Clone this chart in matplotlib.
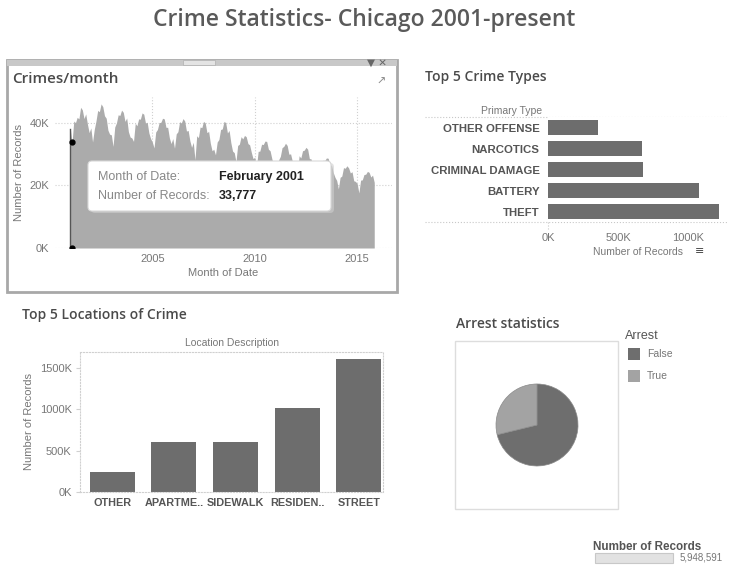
import matplotlib.pyplot as plt
import matplotlib.patches as mpatches
import numpy as np

W, H = 733, 576

# ---- data ----
years = list(range(2001, 2016))
monthly_k = [
    [38.1, 33.8, 40.6, 40.1, 41.8, 41.3, 45.0, 44.2, 41.4, 42.9, 39.6, 36.9],
    [38.4, 33.9, 37.9, 40.6, 44.0, 43.6, 46.1, 45.2, 42.3, 41.5, 37.7, 36.4],
    [36.2, 32.5, 38.7, 40.0, 42.6, 42.4, 44.1, 43.4, 40.5, 41.6, 37.2, 35.5],
    [35.2, 34.1, 39.9, 39.1, 41.3, 41.2, 43.2, 42.8, 40.0, 40.2, 36.8, 35.0],
    [33.9, 32.0, 37.1, 37.9, 40.1, 40.2, 41.5, 41.3, 38.6, 38.6, 35.2, 33.4],
    [35.0, 31.9, 36.5, 37.2, 40.4, 40.0, 41.4, 40.6, 37.4, 37.6, 34.3, 32.2],
    [33.8, 28.2, 35.9, 35.3, 38.7, 38.5, 40.5, 40.0, 36.9, 37.3, 33.5, 31.1],
    [31.6, 29.8, 33.9, 34.7, 37.9, 38.1, 40.5, 40.1, 36.8, 37.6, 33.7, 31.0],
    [30.5, 27.6, 32.8, 33.2, 35.6, 34.9, 36.0, 35.6, 33.4, 33.0, 30.6, 28.6],
    [29.0, 25.9, 30.9, 31.0, 33.2, 33.1, 34.2, 34.1, 31.6, 31.1, 28.6, 26.6],
    [26.1, 22.8, 28.2, 29.3, 32.1, 32.5, 33.5, 32.8, 30.0, 30.1, 27.8, 26.5],
    [26.5, 24.6, 29.5, 28.8, 31.1, 31.3, 32.2, 31.6, 28.6, 28.5, 25.8, 25.1],
    [25.6, 21.8, 25.8, 25.9, 28.1, 28.0, 28.8, 28.7, 26.7, 26.4, 24.1, 22.6],
    [21.6, 18.9, 22.6, 23.0, 25.7, 25.5, 26.3, 25.6, 24.0, 24.4, 21.5, 21.3],
    [20.6, 17.6, 21.7, 21.8, 23.5, 23.6, 24.5, 24.2, 22.7, 23.3, 21.0],
]
hover_month = 'February 2001'
hover_value = 33777

crime_types = ['OTHER OFFENSE', 'NARCOTICS', 'CRIMINAL DAMAGE', 'BATTERY', 'THEFT']
crime_counts = [357000, 671000, 679000, 1079000, 1221000]

locations = ['OTHER', 'APARTME..', 'SIDEWALK', 'RESIDEN..', 'STREET']
location_counts = [241000, 602000, 598000, 1012000, 1602000]

arrest_labels = ['False', 'True']
arrest_counts = [4235000, 1713591]
total_records = 5948591

# ---- colours / fonts ----
GREY_TXT = '#777777'
DARK_TXT = '#555555'
BAR = '#6d6d6d'
AREA = '#ababab'
PIE_COLS = ['#6e6e6e', '#a3a3a3']
TFONT = 'Open Sans'
AFONT = 'Liberation Sans'


def rect(x0, y0, x1, y1):
    return [x0 / W, 1 - y1 / H, (x1 - x0) / W, (y1 - y0) / H]


fig = plt.figure(figsize=(W / 100, H / 100), dpi=100)
bg = fig.add_axes([0, 0, 1, 1])
bg.set_xlim(0, W)
bg.set_ylim(H, 0)
bg.axis('off')

bg.text(364, 20, 'Crime Statistics- Chicago 2001-present', ha='center', va='center',
        fontsize=16.5, fontweight='semibold', family=TFONT, color='#5a5a5a')

# panel frame for crimes/month
bg.add_patch(mpatches.Rectangle((7, 60), 390, 232, fill=False, ec='#a8a8a8', lw=2))
bg.add_patch(mpatches.Rectangle((7, 60), 390, 6, fc='#c8c8c8', ec='none'))
bg.add_patch(mpatches.Rectangle((183, 60), 32, 5, fc='#e4e4e4', ec='#b0b0b0', lw=0.5))
bg.text(387, 62.5, '\u25bc \u2715', ha='right', va='center', fontsize=7.5, color='#666666',
        family='DejaVu Sans')
bg.text(12, 79, 'Crimes/month', ha='left', va='center', fontsize=11, fontweight='semibold',
        family=TFONT, color='#4a4a4a')
bg.text(381, 82, '\u2197', ha='center', va='center', fontsize=8, color='#888888',
        family='DejaVu Sans')

# section titles
bg.text(425, 77, 'Top 5 Crime Types', ha='left', va='center', fontsize=10,
        fontweight='semibold', family=TFONT, color='#4a4a4a')
bg.text(22, 315, 'Top 5 Locations of Crime', ha='left', va='center', fontsize=10,
        fontweight='semibold', family=TFONT, color='#4a4a4a')
bg.text(456, 324, 'Arrest statistics', ha='left', va='center', fontsize=10,
        fontweight='semibold', family=TFONT, color='#4a4a4a')

# ---- crimes per month area ----
vals = np.concatenate([np.array(v) * 1000 for v in monthly_k])
months = np.concatenate([y + np.arange(len(v)) / 12 for y, v in zip(years, monthly_k)])
ax1 = fig.add_axes(rect(55, 97, 392, 248))
ax1.fill_between(months, vals, 0, color=AREA, lw=0)
ax1.plot([months[0], months[0]], [0, vals[0]], color='#555555', lw=1)
ax1.plot([months[1], months[1]], [0, hover_value], 'o', color='black', ms=3.5)
ax1.set_xlim(2000.25, 2016.7)
ax1.set_ylim(0, 48300)
ax1.set_yticks([0, 20000, 40000])
ax1.set_yticklabels(['0K', '20K', '40K'])
ax1.set_xticks([2005, 2010, 2015])
ax1.grid(True, ls=':', color='#d0d0d0', lw=0.8)
ax1.set_axisbelow(True)
for s in ax1.spines.values():
    s.set_visible(False)
ax1.tick_params(length=0, labelsize=8, colors=GREY_TXT, pad=4)
for t in ax1.get_xticklabels() + ax1.get_yticklabels():
    t.set_family(AFONT)
ax1.set_xlabel('Month of Date', fontsize=8, color=GREY_TXT, family=AFONT, labelpad=3)
ax1.set_ylabel('Number of Records', fontsize=8, color=GREY_TXT, family=AFONT, labelpad=4)

# ---- top 5 crime types ----
ax2 = fig.add_axes(rect(548, 117, 727, 222))
ypos = np.arange(len(crime_types))
ax2.barh(ypos, crime_counts, height=0.72, color=BAR)
ax2.set_ylim(len(crime_types) - 0.5, -0.5)
ax2.set_xlim(0, 1279000)
ax2.set_yticks(ypos)
ax2.set_yticklabels(crime_types)
ax2.set_xticks([0, 500000, 1000000])
ax2.set_xticklabels(['0K', '500K', '1000K'])
for s in ax2.spines.values():
    s.set_visible(False)
ax2.tick_params(axis='y', length=0, pad=6, labelsize=8.2, labelcolor=DARK_TXT)
ax2.tick_params(axis='x', length=0, pad=8, labelsize=8, labelcolor=GREY_TXT)
for t in ax2.get_yticklabels():
    t.set_family(AFONT)
    t.set_fontweight('bold')
for t in ax2.get_xticklabels():
    t.set_family(AFONT)
bg.plot([425, 727], [117, 117], ls=':', color='#c8c8c8', lw=0.8)
bg.plot([425, 727], [222, 222], ls=':', color='#c8c8c8', lw=0.8)
bg.plot([548, 548], [222, 229], ls=':', color='#c8c8c8', lw=0.8)
bg.text(542, 111, 'Primary Type', ha='right', va='center', fontsize=7.5, color=GREY_TXT,
        family=AFONT)
bg.text(638, 252, 'Number of Records', ha='center', va='center', fontsize=7.5,
        color=GREY_TXT, family=AFONT)
bg.text(700, 251, '\u2261', ha='center', va='center', fontsize=8, color='#444444',
        family='DejaVu Sans')

# ---- top 5 locations ----
ax3 = fig.add_axes(rect(80, 352, 383, 492))
xpos = np.arange(len(locations))
ax3.bar(xpos, location_counts, width=0.73, color=BAR)
ax3.set_xlim(-0.52, 4.39)
ax3.set_ylim(0, 1687000)
ax3.set_xticks(xpos)
ax3.set_xticklabels(locations)
ax3.set_yticks([0, 500000, 1000000, 1500000])
ax3.set_yticklabels(['0K', '500K', '1000K', '1500K'])
for s in ax3.spines.values():
    s.set_linestyle(':')
    s.set_color('#d0d0d0')
    s.set_linewidth(0.8)
ax3.tick_params(axis='y', length=3, color='#d0d0d0', pad=3, labelsize=8, labelcolor=GREY_TXT)
ax3.tick_params(axis='x', length=0, pad=4, labelsize=7.8, labelcolor=DARK_TXT)
for t in ax3.get_xticklabels():
    t.set_family(AFONT)
    t.set_fontweight('bold')
for t in ax3.get_yticklabels():
    t.set_family(AFONT)
ax3.set_title('Location Description', fontsize=7.5, color=GREY_TXT, family=AFONT, pad=4)
ax3.set_ylabel('Number of Records', fontsize=8, color=GREY_TXT, family=AFONT, labelpad=4)

# ---- arrest pie ----
bg.add_patch(mpatches.Rectangle((455, 341), 163, 168, fill=False, ec='#dddddd', lw=1))
ax4 = fig.add_axes(rect(496, 384, 578, 466))
ax4.pie(arrest_counts, colors=PIE_COLS, startangle=90, counterclock=False,
        wedgeprops=dict(lw=0.5, ec='#8a8a8a'))
ax4.set_xlim(-1, 1)
ax4.set_ylim(-1, 1)
bg.text(625, 336, 'Arrest', ha='left', va='center', fontsize=9, color=DARK_TXT,
        family=AFONT)
for lab, col, yy in zip(arrest_labels, PIE_COLS, [354, 376]):
    bg.add_patch(mpatches.Rectangle((628, yy - 6), 12, 12, fc=col, ec='none'))
    bg.text(647, yy, lab, ha='left', va='center', fontsize=7.5, color=GREY_TXT, family=AFONT)

# ---- size legend ----
bg.text(593, 547, 'Number of Records', ha='left', va='center', fontsize=8.4, fontweight='bold',
        color=DARK_TXT, family=AFONT)
bg.add_patch(mpatches.Rectangle((595, 553), 78, 10, fc='#e2e2e2', ec='#c8c8c8', lw=0.8))
bg.text(680, 558, f'{total_records:,}', ha='left', va='center', fontsize=7, color=GREY_TXT,
        family=AFONT)

# ---- tooltip overlay ----
ov = fig.add_axes([0, 0, 1, 1], facecolor='none')
ov.set_xlim(0, W)
ov.set_ylim(H, 0)
ov.axis('off')
ov.add_patch(mpatches.FancyBboxPatch((91, 163), 243, 50, boxstyle='round,pad=0,rounding_size=4',
                                     fc='#cfcfcf', ec='none', alpha=0.6))
ov.add_patch(mpatches.FancyBboxPatch((88, 161), 243, 50, boxstyle='round,pad=0,rounding_size=4',
                                     fc='white', ec='#d8d8d8', lw=0.8))
ov.text(98, 177, 'Month of Date:', ha='left', va='center', fontsize=9, color='#888888',
        family=AFONT)
ov.text(98, 196, 'Number of Records:', ha='left', va='center', fontsize=9, color='#888888',
        family=AFONT)
ov.text(219, 177, hover_month, ha='left', va='center', fontsize=9, fontweight='bold',
        color='#222222', family=AFONT)
ov.text(219, 196, f'{hover_value:,}', ha='left', va='center', fontsize=9, fontweight='bold',
        color='#222222', family=AFONT)

fig.savefig('out.png', dpi=100)
